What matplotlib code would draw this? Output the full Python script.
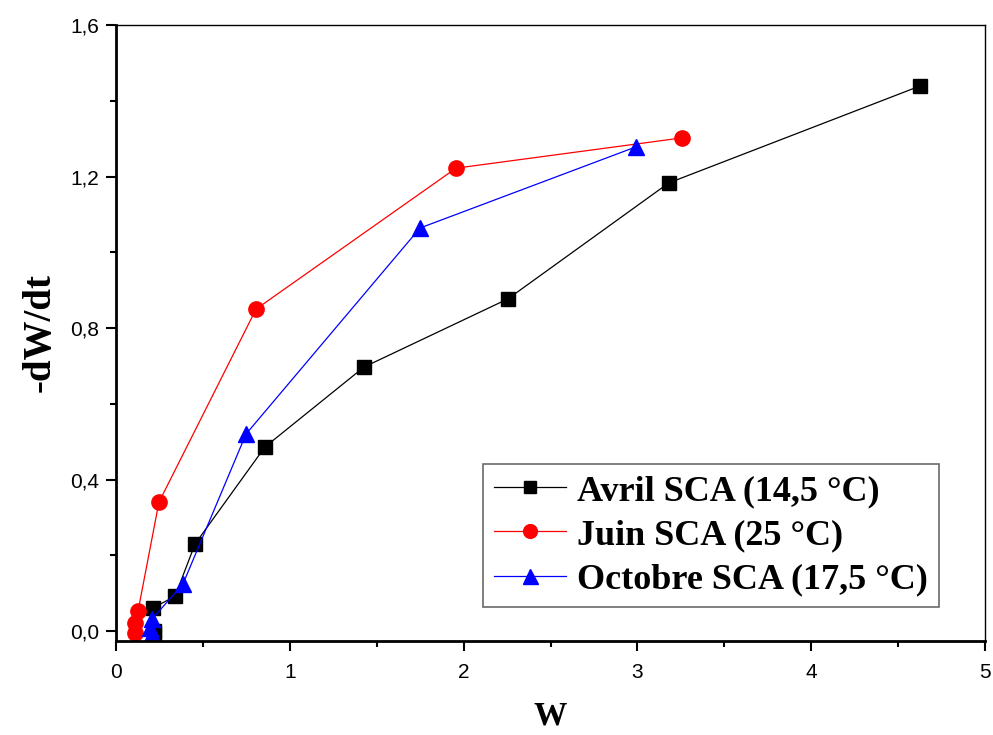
import numpy as np
import matplotlib.pyplot as plt
from matplotlib.ticker import MultipleLocator, FuncFormatter

# données : -dW/dt en fonction de W
w_avril = [0.22, 0.22, 0.213, 0.34, 0.455, 0.857, 1.427, 2.255, 3.18, 4.626]
v_avril = [-0.005, 0.0, 0.061, 0.092, 0.23, 0.486, 0.697, 0.877, 1.183, 1.439]

w_juin = [0.11, 0.11, 0.127, 0.247, 0.806, 1.956, 3.257]
v_juin = [-0.005, 0.02, 0.053, 0.34, 0.85, 1.222, 1.302]

w_oct = [0.205, 0.195, 0.21, 0.385, 0.748, 1.749, 2.99]
v_oct = [-0.008, 0.008, 0.033, 0.124, 0.52, 1.064, 1.278]

labels = ["Avril SCA (14,5 °C)", "Juin SCA (25 °C)", "Octobre SCA (17,5 °C)"]

fig = plt.figure(figsize=(9.93, 7.35), dpi=100)
ax = fig.add_axes([0.1168, 0.128, 0.8752, 0.838])

ax.plot(w_avril, v_avril, color='black', lw=0.9, marker='s', ms=10,
        mfc='black', mec='black', label=labels[0])
ax.plot(w_juin, v_juin, color='red', lw=0.9, marker='o', ms=11,
        mfc='red', mec='red', label=labels[1])
ax.plot(w_oct, v_oct, color='blue', lw=0.9, marker='^', ms=12,
        mfc='blue', mec='blue', label=labels[2])

ax.set_xlim(0, 5)
ax.set_ylim(-0.026, 1.6)
ax.xaxis.set_major_locator(MultipleLocator(1))
ax.xaxis.set_minor_locator(MultipleLocator(0.5))
ax.yaxis.set_major_locator(MultipleLocator(0.4))
ax.yaxis.set_minor_locator(MultipleLocator(0.2))
ax.yaxis.set_major_formatter(FuncFormatter(lambda v, p: f"{v:.1f}".replace('.', ',')))
ax.xaxis.set_major_formatter(FuncFormatter(lambda v, p: f"{v:.0f}"))

ax.tick_params(which='both', direction='out', width=1.5)
ax.tick_params(which='major', length=7, labelsize=15)
ax.tick_params(axis='x', which='major', pad=9)
ax.tick_params(axis='y', which='major', pad=5)
ax.tick_params(which='minor', length=4)
for lab in ax.get_xticklabels() + ax.get_yticklabels():
    lab.set_family('Liberation Sans')
for s in ax.spines.values():
    s.set_linewidth(1.0)
ax.spines['left'].set_linewidth(2)
ax.spines['bottom'].set_linewidth(2)

ax.set_xlabel("W", family='Liberation Serif', weight='bold', fontsize=24, labelpad=13)
ax.set_ylabel("-dW/dt", family='Liberation Serif', weight='bold', fontsize=28, labelpad=8)

leg = ax.legend(loc='lower right', bbox_to_anchor=(0.947, 0.055),
                prop={'family': 'Liberation Serif', 'weight': 'bold', 'size': 26},
                fancybox=False, edgecolor='#444444', handlelength=2.0,
                borderpad=0.3, labelspacing=0.3, handletextpad=0.3,
                borderaxespad=0, markerscale=0.9)
leg.get_frame().set_linewidth(1.2)

fig.savefig("out.png", dpi=100)
